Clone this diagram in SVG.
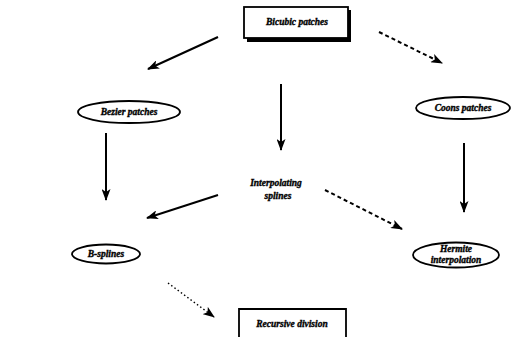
<svg xmlns="http://www.w3.org/2000/svg" width="519" height="337" viewBox="0 0 519 337">
<style>
.t{font-family:"Liberation Serif","Times New Roman",serif;font-weight:bold;font-style:italic;font-size:9.5px;fill:#000;stroke:#000;stroke-width:0.35;text-anchor:middle}
.n{fill:#fff;stroke:#000;stroke-width:1.8}
.c{fill:none;stroke:#000;stroke-width:2}
.d{stroke-dasharray:4,3}
.f{stroke-width:1.4;stroke-dasharray:1.5,2.5}
</style>
<defs>
<marker id="ah" viewBox="0 0 12 9" refX="11" refY="4.5" markerWidth="12" markerHeight="9" markerUnits="userSpaceOnUse" orient="auto">
<path d="M0,0 L12,4.5 L0,9 L3,4.5 Z" fill="#000"/>
</marker>
</defs>
<rect width="519" height="337" fill="#fff"/>
<g id="connectors">
<line class="c" x1="218" y1="37" x2="148" y2="69" marker-end="url(#ah)"/>
<line class="c d" x1="379" y1="32" x2="442" y2="63" marker-end="url(#ah)"/>
<line class="c" x1="281" y1="84" x2="281" y2="150" marker-end="url(#ah)"/>
<line class="c" x1="106" y1="133" x2="106" y2="200" marker-end="url(#ah)"/>
<line class="c" x1="464" y1="143" x2="464" y2="212" marker-end="url(#ah)"/>
<line class="c" x1="218" y1="195" x2="147" y2="218" marker-end="url(#ah)"/>
<line class="c d" x1="325" y1="190" x2="402" y2="229" marker-end="url(#ah)"/>
<line class="c f" x1="168" y1="283" x2="214" y2="317" marker-end="url(#ah)"/>
</g>
<g id="bicubic">
<rect x="247" y="10" width="104" height="32" fill="#000"/>
<rect class="n" x="244" y="7" width="104" height="31"/>
<text class="t" x="297" y="25">Bicubic patches</text>
</g>
<g id="bezier">
<ellipse class="n" cx="129" cy="112" rx="51" ry="11"/>
<text class="t" x="129" y="115">Bezier patches</text>
</g>
<g id="coons">
<ellipse class="n" cx="463" cy="108" rx="47" ry="11"/>
<text class="t" x="463" y="111">Coons patches</text>
</g>
<g id="interpolating">
<text class="t" x="276" y="186">Interpolating</text>
<text class="t" x="278" y="199">splines</text>
</g>
<g id="bsplines">
<ellipse class="n" cx="106" cy="254" rx="34" ry="9.5"/>
<text class="t" x="106" y="257">B-splines</text>
</g>
<g id="hermite">
<ellipse class="n" cx="456" cy="255" rx="43" ry="12.5"/>
<text class="t" x="456" y="252">Hermite</text>
<text class="t" x="456" y="263">interpolation</text>
</g>
<g id="recursive">
<path class="n" d="M239,340 L239,309 L346,309 L346,340"/>
<text class="t" x="292" y="327">Recursive division</text>
</g>
</svg>
